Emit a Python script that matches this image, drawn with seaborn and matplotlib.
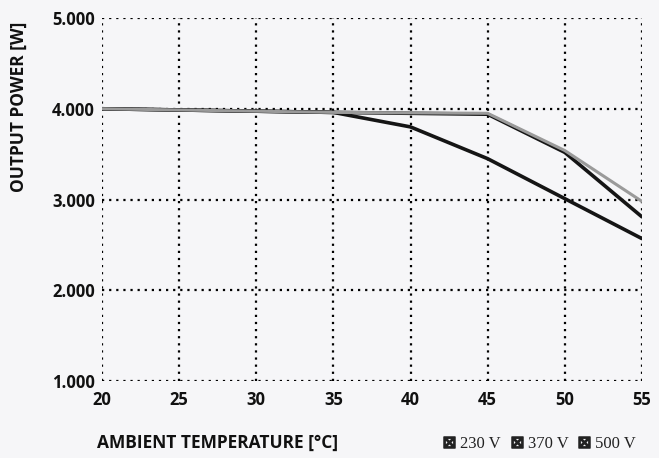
import pandas as pd
import matplotlib.pyplot as plt
import seaborn as sns
from matplotlib.lines import Line2D
from matplotlib.ticker import FuncFormatter

# values
temp_c = [20, 35, 40, 45, 50, 55]
power_230v = [4000, 3960, 3955, 3950, 3540, 2980]
power_370v = [4000, 3960, 3950, 3940, 3520, 2810]
power_500v = [4000, 3960, 3800, 3450, 3010, 2570]
series_names = ['230 V', '370 V', '500 V']
series_colors = ['#9a9a9a', '#151515', '#151515']

x_ticks = [20, 25, 30, 35, 40, 45, 50, 55]
y_ticks = [1000, 2000, 3000, 4000, 5000]

df = pd.concat([
    pd.DataFrame({'temp': temp_c, 'power': p, 'voltage': n})
    for p, n in zip([power_230v, power_370v, power_500v], series_names)
])

sns.set_style('white')
plt.rcParams['font.family'] = ['Open Sans', 'DejaVu Sans']

fig = plt.figure(figsize=(6.59, 4.58), dpi=100)
fig.patch.set_facecolor('#f6f6f8')
ax = fig.add_axes([0.1548, 0.168, 0.8192, 0.7927])
ax.set_facecolor('#f6f6f8')

# draw 500 V and 370 V first so the grey 230 V line sits on top like in the scan
order = ['500 V', '370 V', '230 V']
palette = dict(zip(series_names, series_colors))
for name in order:
    sub = df[df['voltage'] == name]
    sns.lineplot(data=sub, x='temp', y='power', color=palette[name],
                 linewidth=2.6 if name != '230 V' else 2.2, ax=ax, legend=False)

ax.set_xlim(20, 55)
ax.set_ylim(1000, 5000)
ax.set_xticks(x_ticks)
ax.set_yticks(y_ticks)
ax.yaxis.set_major_formatter(FuncFormatter(lambda v, _: f'{int(v):,}'.replace(',', '.')))
ax.grid(True, color='black', linestyle=(0, (1, 2.2)), linewidth=1.6)
for s in ax.spines.values():
    s.set_visible(False)
ax.tick_params(axis='both', length=0, labelsize=12)
ax.tick_params(axis='y', pad=5)
ax.tick_params(axis='x', pad=7)
for lab in ax.get_xticklabels() + ax.get_yticklabels():
    lab.set_fontweight('bold')
    lab.set_color('#111111')

ax.set_xlabel('')
ax.set_ylabel('OUTPUT POWER [W]', fontsize=12.5, fontweight='bold', color='#111111')
ax.yaxis.set_label_coords(-0.138, 0.755)
fig.text(0.147, 0.022, 'AMBIENT TEMPERATURE [°C]', fontsize=12.5, fontweight='bold', color='#111111')

handles = [Line2D([], [], linestyle='none', marker=r'$\boxtimes$', markersize=8,
                  color='#222222') for _ in series_names]
leg = fig.legend(handles, series_names, loc='lower right', bbox_to_anchor=(0.985, -0.015),
                 ncol=3, frameon=False, handletextpad=0.3, columnspacing=0.6,
                 handlelength=0.7, borderpad=0.3,
                 prop={'family': ['Liberation Serif', 'DejaVu Serif'], 'size': 12})
for t in leg.get_texts():
    t.set_color('#222222')

plt.savefig('out.png', dpi=100, facecolor=fig.get_facecolor())
